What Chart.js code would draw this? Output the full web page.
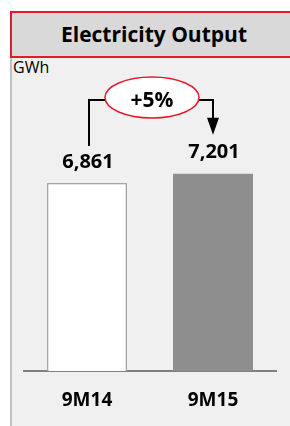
<!DOCTYPE html>
<html>
<head>
<meta charset="utf-8">
<script src="https://cdn.jsdelivr.net/npm/chart.js@4"></script>
<style>
  html, body { margin: 0; padding: 0; background: #fff; }
  body { width: 290px; height: 426px; position: relative; overflow: hidden; font-family: "Open Sans", "Liberation Sans", sans-serif; }
  #head {
    position: absolute; left: 10px; top: 11px; width: 284px; height: 43px;
    background: #d9d9d9; border: 2px solid #e3192d;
    font-weight: bold; font-size: 21px; line-height: 43px; text-align: center; color: #000;
  }
  #panel {
    position: absolute; left: 10px; top: 58px; width: 280px; height: 368px;
    background: #f0f0f0; border-left: 2px solid #c0c0c0; box-sizing: border-box;
  }
  #unit { position: absolute; left: 13px; top: 56px; font-size: 16px; color: #000; }
  #chart { position: absolute; left: 0; top: 0; }
</style>
</head>
<body>
<div id="head">Electricity Output</div>
<div id="panel"></div>
<div id="unit">GWh</div>
<canvas id="chart" width="290" height="426"></canvas>
<script>
  const categories = ['9M14', '9M15'];
  const output = [6861, 7201];
  const yMax = 10000;

  const fmt = v => v.toLocaleString('en-US');
  const growth = Math.round((output[1] / output[0] - 1) * 100);

  // arrow + ellipse + value labels above the bars
  const growthArrow = {
    id: 'growthArrow',
    afterDatasetsDraw(chart) {
      const { ctx, chartArea } = chart;
      const bars = chart.getDatasetMeta(0).data;
      const a = bars[0], b = bars[1];
      ctx.save();
      ctx.fillStyle = '#000';
      ctx.textAlign = 'center';
      ctx.textBaseline = 'middle';
      ctx.font = 'bold 20px "Open Sans"';
      bars.forEach((bar, i) => ctx.fillText(fmt(output[i]), bar.x + 1, bar.y - 21));

      const lineY = chartArea.top + 3;
      const cx = (a.x + b.x) / 2 + 2, cy = lineY - 2.5, rx = 47, ry = 20.5;
      const tipY = b.y - 39;

      ctx.strokeStyle = '#000';
      ctx.lineWidth = 2;
      ctx.beginPath();
      ctx.moveTo(a.x + 2, a.y - 37);
      ctx.lineTo(a.x + 2, lineY);
      ctx.lineTo(cx - rx, lineY);
      ctx.moveTo(cx + rx, lineY);
      ctx.lineTo(b.x, lineY);
      ctx.lineTo(b.x, tipY - 16);
      ctx.stroke();

      ctx.beginPath();
      ctx.moveTo(b.x - 6, tipY - 17);
      ctx.lineTo(b.x + 6, tipY - 17);
      ctx.lineTo(b.x, tipY);
      ctx.closePath();
      ctx.fill();

      ctx.beginPath();
      ctx.ellipse(cx, cy, rx, ry, 0, 0, Math.PI * 2);
      ctx.fillStyle = '#fff';
      ctx.fill();
      ctx.strokeStyle = '#e3192d';
      ctx.lineWidth = 1.5;
      ctx.stroke();

      ctx.fillStyle = '#000';
      ctx.font = 'bold 21px "Open Sans"';
      ctx.fillText('+' + growth + '%', cx, cy + 4);
      ctx.restore();
    }
  };

  new Chart(document.getElementById('chart'), {
    type: 'bar',
    data: {
      labels: categories,
      datasets: [{
        data: output,
        backgroundColor: ['#ffffff', '#8e8e8e'],
        borderColor: ['#a6a6a6', '#8e8e8e'],
        borderWidth: [1.5, 0],
        borderSkipped: 'bottom',
        barPercentage: 1,
        categoryPercentage: 0.635
      }]
    },
    options: {
      responsive: false,
      devicePixelRatio: 1,
      animation: false,
      layout: { padding: { left: 24, right: 14, top: 97, bottom: 0 } },
      plugins: { legend: { display: false }, tooltip: { enabled: false } },
      scales: {
        x: {
          grid: { display: false },
          border: { display: true, color: '#808080', width: 2 },
          ticks: { color: '#000', font: { family: 'Open Sans', weight: 'bold', size: 19 }, padding: 10 },
          afterFit: s => { s.height = 55; }
        },
        y: { display: false, min: 0, max: yMax }
      }
    },
    plugins: [growthArrow]
  });
</script>
</body>
</html>
